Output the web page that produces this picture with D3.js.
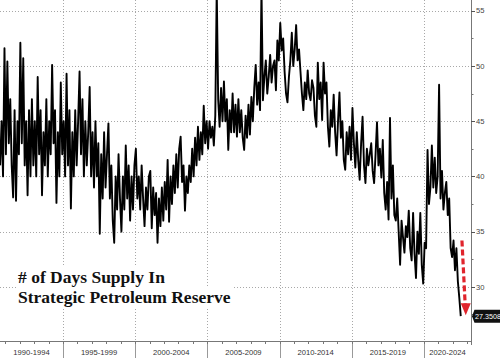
<!DOCTYPE html>
<html><head><meta charset="utf-8">
<script src="https://cdn.jsdelivr.net/npm/d3@7"></script>
<style>body{margin:0;background:#fff;overflow:hidden}</style>
</head><body><svg id="c" width="500" height="358"></svg>
<script>
// ---- data ----
const startYear = 1990.65;
const stepYears = 0.1;
const daysSupply = [
41,45,40,51.6,42,50.4,43,47,41,38.1,
46,37.8,45,42,52.1,43,50.7,41,45,38.3,
46,40,47,41,45,40,49,42,46,38.3,
44,41,47,40,45,42,50.1,43,46,37.6,
44,40,48.5,42,45,40,49.3,41,46,37.1,
44,40,46,41,45,49.5,42,47,40,45,
41,44,48.1,40,44,39,45,40,43,34.8,
42,38,44,39,42,44.8,38,41,36,34.0,
40,37,42,38,35,40,37,42.8,38,41,
36,40,37,41,42.5,38,40,37,41,38,
35.5,39,37,40,40.5,35.3,39,36.5,38.5,34,
38,35.5,39,36,39.5,37,41.5,35.9,40,37.5,
41,38.5,42,39,42.5,43.6,39.5,41,36.9,40,
38.5,41,39.5,42.5,40,43.5,41,44.5,41.5,44,
42,46.4,43,45,42.5,45,43.5,44.5,42.8,45.5,
57,47,44.5,48,45,48.6,45,47,42.4,46,
44,47.5,44,46.5,43.6,47,44,46,43.5,42.4,
45.5,43.5,46.5,43.8,47.2,45,48,50.1,46.5,48.5,
46,57,46.9,49,50.5,47.5,49,51,48.5,50,
50.5,47.8,52.3,50.5,53.9,51.4,52.5,49.5,47.5,46.7,
49,50.5,53,50,51.5,53.7,50.5,51.5,49.5,47.5,
46,48.5,47,49.6,47.5,46.9,48.7,
48,45.5,44.5,50.3,47,48.5,45.1,50.3,47.5,48.5,44.5,42.7,46,
44.5,
47.4,44,41.9,45,47.6,43.5,45,41.5,40.6,44,42,44.5,41.5,46.2,43,40.8,44,41.5,39.7,43,45.4,41,39.4,42.5,41,
42,
43,40.5,39.4,42,44.9,41,42.5,39.9,43.3,38.5,37,39.5,36.1,45.3,38,41,36.5,36,38,35,32,36,34.5,33.1,35.5,
34.5,
36.9,33.5,32.4,36.7,33,30.8,35,33,36.7,32,30.3,34,33.5,42.4,37.5,39,42.8,39,41.7,38.5,40,48.3,38,40.5,37,
38.5,
39.5,36.5,38,33.5,32.7,34.2,31.5,33.5,30.5,29,27.35
];
const periodLabels = ["1990-1994","1995-1999","2000-2004","2005-2009","2010-2014","2015-2019","2020-2024"];
const periodStarts = [1990,1995,2000,2005,2010,2015,2020];
const yTickValues = [30,35,40,45,50,55];
const lastValueLabel = "27.3508";
const arrowFromValue = 34.2;
const titleLines = ["# of Days Supply In","Strategic Petroleum Reserve"];

// ---- layout ----
const plotRight = 471, plotBottom = 341, H = 358;
const svg = d3.select("#c");
const x = d3.scaleLinear().domain([1990.64, 2023.26]).range([0, plotRight]);
const y = d3.scaleLinear().domain([25.1, 55.97]).range([plotBottom, 0]);
const gridColor = "#a8a8a8";
const labelFont = "'Liberation Sans', Arial, sans-serif";

// horizontal gridlines
svg.append("g").selectAll("line").data(yTickValues).join("line")
  .attr("x1",0).attr("x2",plotRight)
  .attr("y1",d=>Math.round(y(d))+0.5).attr("y2",d=>Math.round(y(d))+0.5)
  .attr("stroke",gridColor).attr("stroke-width",1).attr("stroke-dasharray","1,2");

// vertical gridlines at period boundaries
const bounds = periodStarts.slice(1);
svg.append("g").selectAll("line").data(bounds).join("line")
  .attr("x1",d=>Math.round(x(d))+0.5).attr("x2",d=>Math.round(x(d))+0.5)
  .attr("y1",0).attr("y2",plotBottom)
  .attr("stroke",gridColor).attr("stroke-dasharray","1,2");
svg.append("g").selectAll("line").data(bounds).join("line")
  .attr("x1",d=>Math.round(x(d))+0.5).attr("x2",d=>Math.round(x(d))+0.5)
  .attr("y1",plotBottom).attr("y2",H)
  .attr("stroke","#999");

// title annotation with white background
const tg = svg.append("g");
const titleBase = [283, 303];
titleLines.forEach((t,i)=>{
  const txt = tg.append("text").attr("x",18).attr("y",titleBase[i])
    .attr("font-family","'Liberation Serif', serif").attr("font-weight","bold")
    .attr("font-size","17.5px").attr("fill","#111").text(t);
  const bb = txt.node().getBBox();
  tg.insert("rect","text").attr("x",bb.x-2).attr("y",bb.y-1).attr("width",bb.width+4).attr("height",bb.height+1).attr("fill","#fff");
});

// series line
svg.append("clipPath").attr("id","clip").append("rect")
  .attr("x",0).attr("y",0).attr("width",plotRight).attr("height",plotBottom);
const line = d3.line().x((d,i)=>x(startYear + i*stepYears)).y(d=>y(d));
svg.append("path").datum(daysSupply).attr("clip-path","url(#clip)")
  .attr("d",line).attr("fill","none").attr("stroke","#000")
  .attr("stroke-width",1.9).attr("stroke-linejoin","round");

// bottom axis
const xAxis = svg.append("g");
xAxis.append("line").attr("x1",0).attr("x2",plotRight).attr("y1",plotBottom+0.5).attr("y2",plotBottom+0.5).attr("stroke","#777");
const years = d3.range(1991, 2024);
xAxis.selectAll("line.t").data(years).join("line").attr("class","t")
  .attr("x1",d=>Math.round(x(d))+0.5).attr("x2",d=>Math.round(x(d))+0.5)
  .attr("y1",plotBottom).attr("y2",plotBottom+3).attr("stroke","#777");
xAxis.selectAll("text").data(periodLabels).join("text")
  .attr("x",(d,i)=>{const a=Math.max(x(periodStarts[i]),0);const b=Math.min(x(periodStarts[i]+5),plotRight);return (a+b)/2;})
  .attr("y",355).attr("text-anchor","middle")
  .attr("font-family",labelFont).attr("font-size","7.6px").attr("fill","#333")
  .text(d=>d);

// right axis
const yAxis = svg.append("g");
yAxis.append("line").attr("x1",plotRight+0.5).attr("x2",plotRight+0.5).attr("y1",0).attr("y2",plotBottom+4).attr("stroke","#777");
const minor = d3.range(27.5, 56, 5);
yAxis.selectAll("line.mj").data(yTickValues).join("line").attr("class","mj")
  .attr("x1",plotRight).attr("x2",plotRight+4)
  .attr("y1",d=>Math.round(y(d))+0.5).attr("y2",d=>Math.round(y(d))+0.5).attr("stroke","#555");
yAxis.selectAll("line.mn").data(minor).join("line").attr("class","mn")
  .attr("x1",plotRight).attr("x2",plotRight+2.5)
  .attr("y1",d=>Math.round(y(d))+0.5).attr("y2",d=>Math.round(y(d))+0.5).attr("stroke","#777");
yAxis.selectAll("text").data(yTickValues).join("text")
  .attr("x",plotRight+5).attr("y",d=>y(d)+2.7)
  .attr("font-family",labelFont).attr("font-size","7.6px").attr("fill","#444")
  .text(d=>d);

// last value tag
const lastV = daysSupply[daysSupply.length-1];
const ly = y(lastV);
svg.append("path")
  .attr("d",`M${plotRight+1},${ly} L${plotRight+3.5},${ly-6.5} L500,${ly-6.5} L500,${ly+6.5} L${plotRight+3.5},${ly+6.5} Z`)
  .attr("fill","#111");
svg.append("text").attr("x",plotRight+4).attr("y",ly+2.6)
  .attr("font-family",labelFont).attr("font-size","7.2px").attr("fill","#fff")
  .text(lastValueLabel);

// red dashed arrow
const lastX = x(startYear + (daysSupply.length-1)*stepYears);
const ax0 = lastX + 1.2, ay0 = y(arrowFromValue);
const ax1 = lastX + 5, ay1 = y(lastV) - 1;
svg.append("line").attr("x1",ax0).attr("y1",ay0).attr("x2",ax1-0.6).attr("y2",ay1-11)
  .attr("stroke","#e0242c").attr("stroke-width",3.2).attr("stroke-dasharray","6,3");
svg.append("path")
  .attr("d",`M${ax1-5},${ay1-12} L${ax1+5},${ay1-12} L${ax1},${ay1} Z`)
  .attr("fill","#e0242c");
</script>
</body></html>
